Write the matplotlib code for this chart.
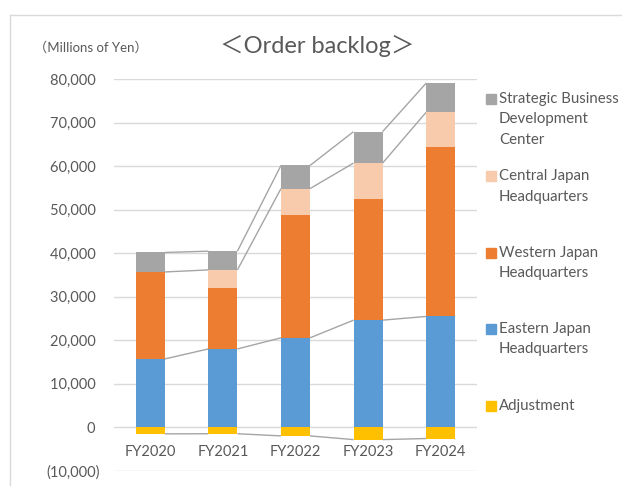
import matplotlib
matplotlib.use("Agg")
import matplotlib.pyplot as plt
from matplotlib.lines import Line2D
from matplotlib.patches import Rectangle
from matplotlib.ticker import FuncFormatter
import numpy as np

plt.rcParams['font.family'] = ['Lato', 'Noto Sans CJK JP', 'DejaVu Sans']

# ---- data (millions of yen) ----
years = ["FY2020", "FY2021", "FY2022", "FY2023", "FY2024"]
eastern = [15700, 18000, 20550, 24620, 25470]
western = [20000, 14100, 28320, 27800, 38870]
central = [0, 4070, 6000, 8320, 8090]
strategic = [4480, 4310, 5320, 7230, 6690]
adjustment = [-1530, -1500, -2000, -2850, -2600]

series_names = ["Strategic Business\nDevelopment\nCenter",
                "Central Japan\nHeadquarters",
                "Western Japan\nHeadquarters",
                "Eastern Japan\nHeadquarters",
                "Adjustment"]
yticks = [-10000, 0, 10000, 20000, 30000, 40000, 50000, 60000, 70000, 80000]

C_GRAY = "#A5A5A5"
C_PEACH = "#F8CBAD"
C_ORANGE = "#ED7D31"
C_BLUE = "#5B9BD5"
C_YELLOW = "#FFC000"
TXT = "#595959"
W = 622.0
H = 486.0

fig = plt.figure(figsize=(6.22, 4.86), dpi=100)
ax = fig.add_axes([114 / W, 1 - 470.7 / H, (477 - 114) / W, (470.7 - 79.3) / H])

x = np.arange(len(years))
bw = 0.4
e = np.array(eastern, float)
w_ = np.array(western, float)
c = np.array(central, float)
s = np.array(strategic, float)
a = np.array(adjustment, float)

b1 = e
b2 = e + w_
b3 = b2 + c
b4 = b3 + s

ax.bar(x, a, bw, color=C_YELLOW, zorder=3)
ax.bar(x, e, bw, color=C_BLUE, zorder=3)
ax.bar(x, w_, bw, bottom=b1, color=C_ORANGE, zorder=3)
ax.bar(x, c, bw, bottom=b2, color=C_PEACH, zorder=3)
ax.bar(x, s, bw, bottom=b3, color=C_GRAY, zorder=3)

# series lines
for vals in (a, b1, b3, b4):
    for i in range(len(x) - 1):
        ax.plot([x[i] + bw / 2, x[i + 1] - bw / 2], [vals[i], vals[i + 1]],
                color="#A5A5A5", lw=1.0, zorder=2, solid_capstyle='butt')

ax.set_xlim(-0.5, len(x) - 0.5)
ax.set_ylim(-10000, 80000)
ax.set_yticks(yticks)


def fmt(v, pos):
    if v < 0:
        return "({:,.0f})".format(-v)
    return "{:,.0f}".format(v) + " "


ax.yaxis.set_major_formatter(FuncFormatter(fmt))
ax.yaxis.grid(True, color="#D9D9D9", lw=1.0)
ax.set_axisbelow(True)
for sp in ax.spines.values():
    sp.set_visible(False)
ax.spines['bottom'].set_position(('data', 0))
ax.set_xticks(x)
ax.set_xticklabels(years)
ax.tick_params(axis='x', length=0, pad=13, labelsize=10.5, labelcolor=TXT)
ax.tick_params(axis='y', length=0, pad=10.5, labelsize=10.5, labelcolor=TXT)

# title and unit
fig.text(317.5 / W, 1 - 46 / H, "＜Order backlog＞", ha='center', va='center',
         fontsize=17, color=TXT)
fig.text(91 / W, 1 - 47 / H, "（Millions of Yen）", ha='center', va='center',
         fontsize=9.5, color=TXT)

# legend
leg_colors = [C_GRAY, C_PEACH, C_ORANGE, C_BLUE, C_YELLOW]
leg_y = [99, 176, 253, 329, 406]
for name, col, yy in zip(series_names, leg_colors, leg_y):
    fig.patches.append(Rectangle((486 / W, 1 - (yy + 5) / H), 10 / W, 10 / H,
                                 transform=fig.transFigure, color=col))
    for k, line in enumerate(name.split("\n")):
        fig.text(499 / W, 1 - (yy + k * 20.5) / H, line, ha='left', va='center',
                 fontsize=10.8, color=TXT)

# chart border
fig.add_artist(Line2D([10 / W, 10 / W], [0, 1 - 15 / H], transform=fig.transFigure,
                      color="#D9D9D9", lw=1.0))
fig.add_artist(Line2D([10 / W, 1], [1 - 15 / H, 1 - 15 / H], transform=fig.transFigure,
                      color="#D9D9D9", lw=1.0))

fig.savefig("out.png", dpi=100, facecolor="white")
